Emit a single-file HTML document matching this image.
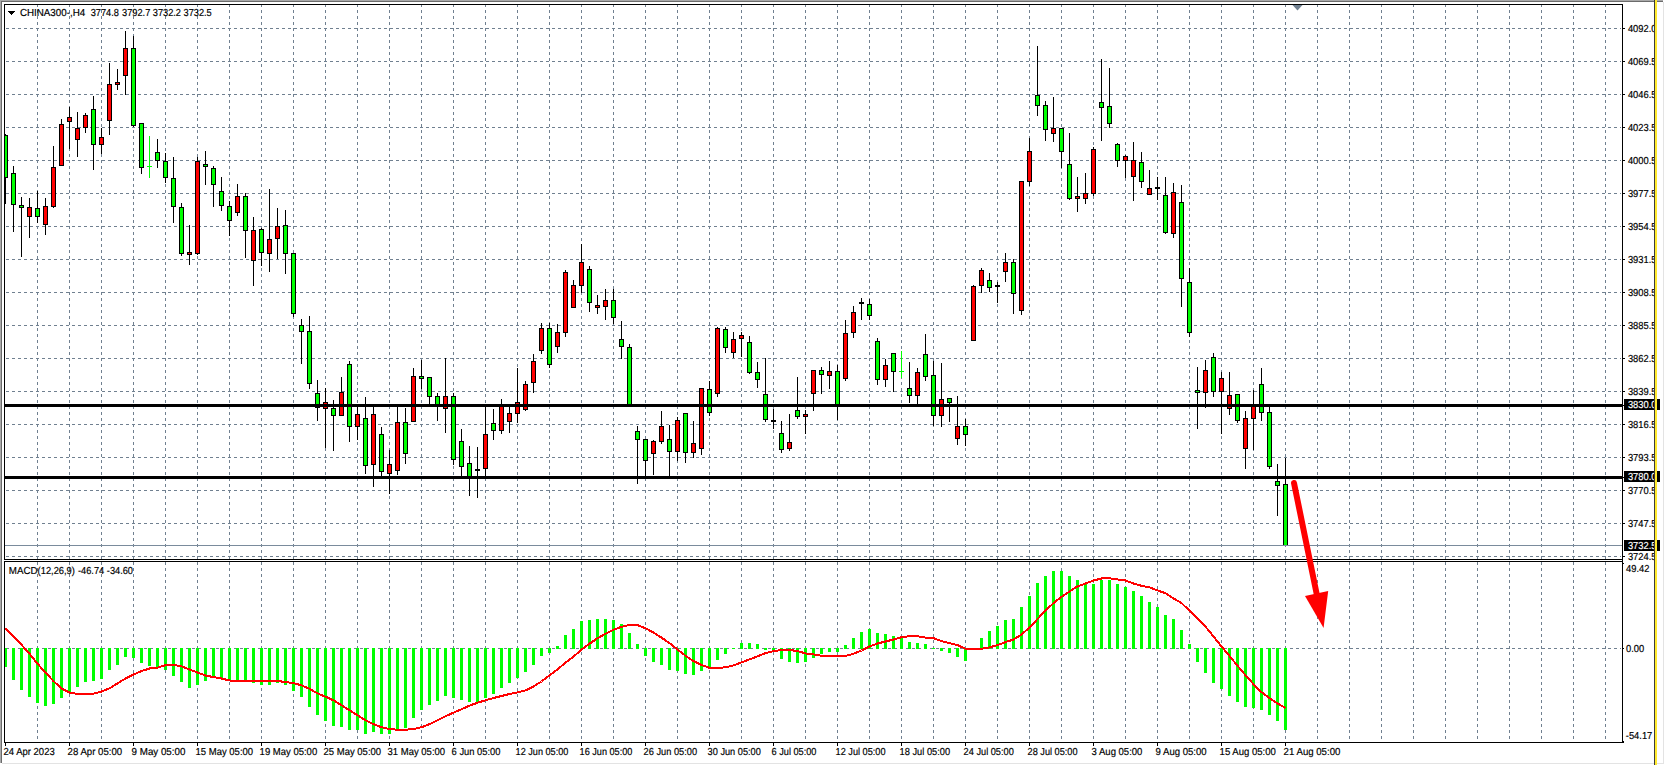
<!DOCTYPE html>
<html><head><meta charset="utf-8"><title>CHINA300-,H4</title>
<style>html,body{margin:0;padding:0;background:#fff;overflow:hidden}svg{display:block}text{font-family:"Liberation Sans",sans-serif;font-size:10.1px;text-rendering:geometricPrecision}</style>
</head><body>
<svg width="1665" height="765" viewBox="0 0 1665 765">
<rect width="1665" height="765" fill="#fff"/>
<g shape-rendering="crispEdges">
<rect x="0" y="0" width="1663" height="1" fill="#a9a9a9"/>
<rect x="0" y="1" width="1663" height="1" fill="#6b6b6b"/>
<rect x="0" y="0" width="1" height="763" fill="#a9a9a9"/>
<rect x="1" y="1" width="1" height="762" fill="#6b6b6b"/>
<rect x="2" y="763" width="1661" height="1" fill="#e3e3e3"/>
<rect x="1663" y="2" width="1" height="762" fill="#e3e3e3"/>
<g stroke="#708090" stroke-width="1" stroke-dasharray="3 3" fill="none">
<path d="M37.5 4V559M69.5 4V559M101.5 4V559M133.5 4V559M165.5 4V559M197.5 4V559M229.5 4V559M261.5 4V559M293.5 4V559M325.5 4V559M357.5 4V559M389.5 4V559M421.5 4V559M453.5 4V559M485.5 4V559M517.5 4V559M549.5 4V559M581.5 4V559M613.5 4V559M645.5 4V559M677.5 4V559M709.5 4V559M741.5 4V559M773.5 4V559M805.5 4V559M837.5 4V559M869.5 4V559M901.5 4V559M933.5 4V559M965.5 4V559M997.5 4V559M1029.5 4V559M1061.5 4V559M1093.5 4V559M1125.5 4V559M1157.5 4V559M1189.5 4V559M1221.5 4V559M1253.5 4V559M1285.5 4V559M1317.5 4V559M1349.5 4V559M1381.5 4V559M1413.5 4V559M1445.5 4V559M1477.5 4V559M1509.5 4V559M1541.5 4V559M1573.5 4V559M1605.5 4V559"/>
<path d="M37.5 562V740M69.5 562V740M101.5 562V740M133.5 562V740M165.5 562V740M197.5 562V740M229.5 562V740M261.5 562V740M293.5 562V740M325.5 562V740M357.5 562V740M389.5 562V740M421.5 562V740M453.5 562V740M485.5 562V740M517.5 562V740M549.5 562V740M581.5 562V740M613.5 562V740M645.5 562V740M677.5 562V740M709.5 562V740M741.5 562V740M773.5 562V740M805.5 562V740M837.5 562V740M869.5 562V740M901.5 562V740M933.5 562V740M965.5 562V740M997.5 562V740M1029.5 562V740M1061.5 562V740M1093.5 562V740M1125.5 562V740M1157.5 562V740M1189.5 562V740M1221.5 562V740M1253.5 562V740M1285.5 562V740M1317.5 562V740M1349.5 562V740M1381.5 562V740M1413.5 562V740M1445.5 562V740M1477.5 562V740M1509.5 562V740M1541.5 562V740M1573.5 562V740M1605.5 562V740"/>
<path d="M6 28.5H1621M6 61.5H1621M6 94.5H1621M6 127.5H1621M6 160.5H1621M6 193.5H1621M6 226.5H1621M6 259.5H1621M6 292.5H1621M6 325.5H1621M6 358.5H1621M6 391.5H1621M6 424.5H1621M6 457.5H1621M6 490.5H1621M6 523.5H1621M6 556.5H1621M6 648.5H1621"/>
</g>
<clipPath id="cm"><rect x="5" y="5" width="1617" height="554"/></clipPath>
<clipPath id="cs"><rect x="5" y="562" width="1617" height="180"/></clipPath>
<g clip-path="url(#cm)">
<rect x="5" y="134" width="1" height="70" fill="#000"/>
<rect x="3" y="135" width="5" height="43" fill="#000"/>
<rect x="4" y="136" width="3" height="41" fill="#00ff00"/>
<rect x="13" y="166" width="1" height="66" fill="#000"/>
<rect x="11" y="173" width="5" height="32" fill="#000"/>
<rect x="12" y="174" width="3" height="30" fill="#00ff00"/>
<rect x="21" y="197" width="1" height="60" fill="#000"/>
<rect x="19" y="205" width="5" height="3" fill="#000"/>
<rect x="20" y="206" width="3" height="1" fill="#00ff00"/>
<rect x="29" y="198" width="1" height="40" fill="#000"/>
<rect x="27" y="207" width="5" height="10" fill="#000"/>
<rect x="28" y="208" width="3" height="8" fill="#ff0000"/>
<rect x="37" y="191" width="1" height="32" fill="#000"/>
<rect x="35" y="208" width="5" height="9" fill="#000"/>
<rect x="36" y="209" width="3" height="7" fill="#00ff00"/>
<rect x="45" y="198" width="1" height="37" fill="#000"/>
<rect x="43" y="206" width="5" height="19" fill="#000"/>
<rect x="44" y="207" width="3" height="17" fill="#ff0000"/>
<rect x="53" y="146" width="1" height="62" fill="#000"/>
<rect x="51" y="167" width="5" height="40" fill="#000"/>
<rect x="52" y="168" width="3" height="38" fill="#ff0000"/>
<rect x="61" y="119" width="1" height="47" fill="#000"/>
<rect x="59" y="124" width="5" height="42" fill="#000"/>
<rect x="60" y="125" width="3" height="40" fill="#ff0000"/>
<rect x="69" y="107" width="1" height="42" fill="#000"/>
<rect x="67" y="117" width="5" height="5" fill="#000"/>
<rect x="68" y="118" width="3" height="3" fill="#ff0000"/>
<rect x="77" y="112" width="1" height="45" fill="#000"/>
<rect x="75" y="128" width="5" height="12" fill="#000"/>
<rect x="76" y="129" width="3" height="10" fill="#ff0000"/>
<rect x="85" y="113" width="1" height="20" fill="#000"/>
<rect x="83" y="115" width="5" height="13" fill="#000"/>
<rect x="84" y="116" width="3" height="11" fill="#ff0000"/>
<rect x="93" y="96" width="1" height="74" fill="#000"/>
<rect x="91" y="109" width="5" height="36" fill="#000"/>
<rect x="92" y="110" width="3" height="34" fill="#00ff00"/>
<rect x="101" y="128" width="1" height="26" fill="#000"/>
<rect x="99" y="137" width="5" height="8" fill="#000"/>
<rect x="100" y="138" width="3" height="6" fill="#ff0000"/>
<rect x="109" y="63" width="1" height="72" fill="#000"/>
<rect x="107" y="84" width="5" height="37" fill="#000"/>
<rect x="108" y="85" width="3" height="35" fill="#ff0000"/>
<rect x="117" y="69" width="1" height="21" fill="#000"/>
<rect x="115" y="82" width="5" height="3" fill="#000"/>
<rect x="116" y="83" width="3" height="1" fill="#ff0000"/>
<rect x="125" y="31" width="1" height="64" fill="#000"/>
<rect x="123" y="48" width="5" height="28" fill="#000"/>
<rect x="124" y="49" width="3" height="26" fill="#ff0000"/>
<rect x="133" y="36" width="1" height="91" fill="#000"/>
<rect x="131" y="48" width="5" height="78" fill="#000"/>
<rect x="132" y="49" width="3" height="76" fill="#00ff00"/>
<rect x="141" y="123" width="1" height="51" fill="#000"/>
<rect x="139" y="123" width="5" height="45" fill="#000"/>
<rect x="140" y="124" width="3" height="43" fill="#00ff00"/>
<rect x="149" y="136" width="1" height="42" fill="#00ff00"/>
<rect x="147" y="166" width="5" height="1" fill="#00ff00"/>
<rect x="157" y="139" width="1" height="29" fill="#000"/>
<rect x="155" y="152" width="5" height="9" fill="#000"/>
<rect x="156" y="153" width="3" height="7" fill="#00ff00"/>
<rect x="165" y="153" width="1" height="30" fill="#000"/>
<rect x="163" y="161" width="5" height="17" fill="#000"/>
<rect x="164" y="162" width="3" height="15" fill="#00ff00"/>
<rect x="173" y="157" width="1" height="66" fill="#000"/>
<rect x="171" y="178" width="5" height="29" fill="#000"/>
<rect x="172" y="179" width="3" height="27" fill="#00ff00"/>
<rect x="181" y="203" width="1" height="53" fill="#000"/>
<rect x="179" y="207" width="5" height="47" fill="#000"/>
<rect x="180" y="208" width="3" height="45" fill="#00ff00"/>
<rect x="189" y="225" width="1" height="40" fill="#000"/>
<rect x="187" y="252" width="5" height="3" fill="#000"/>
<rect x="188" y="253" width="3" height="1" fill="#ff0000"/>
<rect x="197" y="157" width="1" height="98" fill="#000"/>
<rect x="195" y="161" width="5" height="93" fill="#000"/>
<rect x="196" y="162" width="3" height="91" fill="#ff0000"/>
<rect x="205" y="151" width="1" height="34" fill="#000"/>
<rect x="203" y="164" width="5" height="3" fill="#000"/>
<rect x="204" y="165" width="3" height="1" fill="#00ff00"/>
<rect x="213" y="166" width="1" height="41" fill="#000"/>
<rect x="211" y="168" width="5" height="17" fill="#000"/>
<rect x="212" y="169" width="3" height="15" fill="#00ff00"/>
<rect x="221" y="177" width="1" height="34" fill="#000"/>
<rect x="219" y="191" width="5" height="15" fill="#000"/>
<rect x="220" y="192" width="3" height="13" fill="#00ff00"/>
<rect x="229" y="201" width="1" height="35" fill="#000"/>
<rect x="227" y="206" width="5" height="15" fill="#000"/>
<rect x="228" y="207" width="3" height="13" fill="#00ff00"/>
<rect x="237" y="184" width="1" height="32" fill="#000"/>
<rect x="235" y="196" width="5" height="17" fill="#000"/>
<rect x="236" y="197" width="3" height="15" fill="#ff0000"/>
<rect x="245" y="193" width="1" height="65" fill="#000"/>
<rect x="243" y="196" width="5" height="35" fill="#000"/>
<rect x="244" y="197" width="3" height="33" fill="#00ff00"/>
<rect x="253" y="217" width="1" height="69" fill="#000"/>
<rect x="251" y="230" width="5" height="31" fill="#000"/>
<rect x="252" y="231" width="3" height="29" fill="#ff0000"/>
<rect x="261" y="228" width="1" height="38" fill="#000"/>
<rect x="259" y="229" width="5" height="24" fill="#000"/>
<rect x="260" y="230" width="3" height="22" fill="#00ff00"/>
<rect x="269" y="189" width="1" height="83" fill="#000"/>
<rect x="267" y="239" width="5" height="15" fill="#000"/>
<rect x="268" y="240" width="3" height="13" fill="#ff0000"/>
<rect x="277" y="208" width="1" height="51" fill="#000"/>
<rect x="275" y="226" width="5" height="13" fill="#000"/>
<rect x="276" y="227" width="3" height="11" fill="#ff0000"/>
<rect x="285" y="210" width="1" height="64" fill="#000"/>
<rect x="283" y="225" width="5" height="29" fill="#000"/>
<rect x="284" y="226" width="3" height="27" fill="#00ff00"/>
<rect x="293" y="253" width="1" height="64" fill="#000"/>
<rect x="291" y="253" width="5" height="61" fill="#000"/>
<rect x="292" y="254" width="3" height="59" fill="#00ff00"/>
<rect x="301" y="319" width="1" height="45" fill="#000"/>
<rect x="299" y="325" width="5" height="7" fill="#000"/>
<rect x="300" y="326" width="3" height="5" fill="#00ff00"/>
<rect x="309" y="316" width="1" height="73" fill="#000"/>
<rect x="307" y="331" width="5" height="53" fill="#000"/>
<rect x="308" y="332" width="3" height="51" fill="#00ff00"/>
<rect x="317" y="380" width="1" height="41" fill="#000"/>
<rect x="315" y="393" width="5" height="15" fill="#000"/>
<rect x="316" y="394" width="3" height="13" fill="#00ff00"/>
<rect x="325" y="388" width="1" height="60" fill="#000"/>
<rect x="323" y="402" width="5" height="7" fill="#000"/>
<rect x="324" y="403" width="3" height="5" fill="#ff0000"/>
<rect x="333" y="400" width="1" height="51" fill="#000"/>
<rect x="331" y="408" width="5" height="8" fill="#000"/>
<rect x="332" y="409" width="3" height="6" fill="#00ff00"/>
<rect x="341" y="377" width="1" height="39" fill="#000"/>
<rect x="339" y="392" width="5" height="24" fill="#000"/>
<rect x="340" y="393" width="3" height="22" fill="#ff0000"/>
<rect x="349" y="361" width="1" height="81" fill="#000"/>
<rect x="347" y="364" width="5" height="63" fill="#000"/>
<rect x="348" y="365" width="3" height="61" fill="#00ff00"/>
<rect x="357" y="405" width="1" height="35" fill="#000"/>
<rect x="355" y="414" width="5" height="13" fill="#000"/>
<rect x="356" y="415" width="3" height="11" fill="#ff0000"/>
<rect x="365" y="397" width="1" height="77" fill="#000"/>
<rect x="363" y="418" width="5" height="48" fill="#000"/>
<rect x="364" y="419" width="3" height="46" fill="#00ff00"/>
<rect x="373" y="405" width="1" height="82" fill="#000"/>
<rect x="371" y="414" width="5" height="51" fill="#000"/>
<rect x="372" y="415" width="3" height="49" fill="#ff0000"/>
<rect x="381" y="427" width="1" height="49" fill="#000"/>
<rect x="379" y="434" width="5" height="38" fill="#000"/>
<rect x="380" y="435" width="3" height="36" fill="#00ff00"/>
<rect x="389" y="450" width="1" height="44" fill="#000"/>
<rect x="387" y="464" width="5" height="10" fill="#000"/>
<rect x="388" y="465" width="3" height="8" fill="#ff0000"/>
<rect x="397" y="405" width="1" height="70" fill="#000"/>
<rect x="395" y="422" width="5" height="49" fill="#000"/>
<rect x="396" y="423" width="3" height="47" fill="#ff0000"/>
<rect x="405" y="408" width="1" height="56" fill="#000"/>
<rect x="403" y="422" width="5" height="32" fill="#000"/>
<rect x="404" y="423" width="3" height="30" fill="#00ff00"/>
<rect x="413" y="368" width="1" height="54" fill="#000"/>
<rect x="411" y="376" width="5" height="46" fill="#000"/>
<rect x="412" y="377" width="3" height="44" fill="#ff0000"/>
<rect x="421" y="360" width="1" height="29" fill="#000"/>
<rect x="419" y="376" width="5" height="3" fill="#000"/>
<rect x="420" y="377" width="3" height="1" fill="#00ff00"/>
<rect x="429" y="377" width="1" height="28" fill="#000"/>
<rect x="427" y="377" width="5" height="20" fill="#000"/>
<rect x="428" y="378" width="3" height="18" fill="#00ff00"/>
<rect x="437" y="393" width="1" height="28" fill="#000"/>
<rect x="435" y="396" width="5" height="10" fill="#000"/>
<rect x="436" y="397" width="3" height="8" fill="#00ff00"/>
<rect x="445" y="358" width="1" height="75" fill="#000"/>
<rect x="443" y="396" width="5" height="13" fill="#000"/>
<rect x="444" y="397" width="3" height="11" fill="#ff0000"/>
<rect x="453" y="393" width="1" height="72" fill="#000"/>
<rect x="451" y="396" width="5" height="64" fill="#000"/>
<rect x="452" y="397" width="3" height="62" fill="#00ff00"/>
<rect x="461" y="429" width="1" height="47" fill="#000"/>
<rect x="459" y="441" width="5" height="26" fill="#000"/>
<rect x="460" y="442" width="3" height="24" fill="#00ff00"/>
<rect x="469" y="446" width="1" height="50" fill="#000"/>
<rect x="467" y="463" width="5" height="15" fill="#000"/>
<rect x="468" y="464" width="3" height="13" fill="#00ff00"/>
<rect x="477" y="447" width="1" height="51" fill="#000"/>
<rect x="475" y="469" width="5" height="2" fill="#000"/>
<rect x="485" y="405" width="1" height="71" fill="#000"/>
<rect x="483" y="434" width="5" height="35" fill="#000"/>
<rect x="484" y="435" width="3" height="33" fill="#ff0000"/>
<rect x="493" y="409" width="1" height="31" fill="#000"/>
<rect x="491" y="423" width="5" height="8" fill="#000"/>
<rect x="492" y="424" width="3" height="6" fill="#00ff00"/>
<rect x="501" y="399" width="1" height="35" fill="#000"/>
<rect x="499" y="406" width="5" height="25" fill="#000"/>
<rect x="500" y="407" width="3" height="23" fill="#ff0000"/>
<rect x="509" y="405" width="1" height="28" fill="#000"/>
<rect x="507" y="413" width="5" height="9" fill="#000"/>
<rect x="508" y="414" width="3" height="7" fill="#ff0000"/>
<rect x="517" y="368" width="1" height="55" fill="#000"/>
<rect x="515" y="402" width="5" height="12" fill="#000"/>
<rect x="516" y="403" width="3" height="10" fill="#ff0000"/>
<rect x="525" y="381" width="1" height="30" fill="#000"/>
<rect x="523" y="384" width="5" height="26" fill="#000"/>
<rect x="524" y="385" width="3" height="24" fill="#ff0000"/>
<rect x="533" y="354" width="1" height="39" fill="#000"/>
<rect x="531" y="361" width="5" height="22" fill="#000"/>
<rect x="532" y="362" width="3" height="20" fill="#ff0000"/>
<rect x="541" y="323" width="1" height="31" fill="#000"/>
<rect x="539" y="328" width="5" height="23" fill="#000"/>
<rect x="540" y="329" width="3" height="21" fill="#ff0000"/>
<rect x="549" y="323" width="1" height="45" fill="#000"/>
<rect x="547" y="328" width="5" height="37" fill="#000"/>
<rect x="548" y="329" width="3" height="35" fill="#00ff00"/>
<rect x="557" y="324" width="1" height="29" fill="#000"/>
<rect x="555" y="332" width="5" height="15" fill="#000"/>
<rect x="556" y="333" width="3" height="13" fill="#ff0000"/>
<rect x="565" y="270" width="1" height="67" fill="#000"/>
<rect x="563" y="272" width="5" height="61" fill="#000"/>
<rect x="564" y="273" width="3" height="59" fill="#ff0000"/>
<rect x="573" y="280" width="1" height="28" fill="#000"/>
<rect x="571" y="285" width="5" height="23" fill="#000"/>
<rect x="572" y="286" width="3" height="21" fill="#ff0000"/>
<rect x="581" y="244" width="1" height="49" fill="#000"/>
<rect x="579" y="262" width="5" height="24" fill="#000"/>
<rect x="580" y="263" width="3" height="22" fill="#ff0000"/>
<rect x="589" y="266" width="1" height="46" fill="#000"/>
<rect x="587" y="269" width="5" height="34" fill="#000"/>
<rect x="588" y="270" width="3" height="32" fill="#00ff00"/>
<rect x="597" y="295" width="1" height="19" fill="#000"/>
<rect x="595" y="305" width="5" height="3" fill="#000"/>
<rect x="596" y="306" width="3" height="1" fill="#ff0000"/>
<rect x="605" y="289" width="1" height="31" fill="#000"/>
<rect x="603" y="300" width="5" height="7" fill="#000"/>
<rect x="604" y="301" width="3" height="5" fill="#ff0000"/>
<rect x="613" y="289" width="1" height="35" fill="#000"/>
<rect x="611" y="300" width="5" height="18" fill="#000"/>
<rect x="612" y="301" width="3" height="16" fill="#00ff00"/>
<rect x="621" y="321" width="1" height="38" fill="#000"/>
<rect x="619" y="339" width="5" height="8" fill="#000"/>
<rect x="620" y="340" width="3" height="6" fill="#00ff00"/>
<rect x="629" y="344" width="1" height="62" fill="#000"/>
<rect x="627" y="347" width="5" height="59" fill="#000"/>
<rect x="628" y="348" width="3" height="57" fill="#00ff00"/>
<rect x="637" y="426" width="1" height="58" fill="#000"/>
<rect x="635" y="431" width="5" height="9" fill="#000"/>
<rect x="636" y="432" width="3" height="7" fill="#00ff00"/>
<rect x="645" y="439" width="1" height="38" fill="#000"/>
<rect x="643" y="439" width="5" height="22" fill="#000"/>
<rect x="644" y="440" width="3" height="20" fill="#00ff00"/>
<rect x="653" y="440" width="1" height="35" fill="#000"/>
<rect x="651" y="441" width="5" height="13" fill="#000"/>
<rect x="652" y="442" width="3" height="11" fill="#ff0000"/>
<rect x="661" y="411" width="1" height="33" fill="#000"/>
<rect x="659" y="426" width="5" height="16" fill="#000"/>
<rect x="660" y="427" width="3" height="14" fill="#ff0000"/>
<rect x="669" y="425" width="1" height="51" fill="#000"/>
<rect x="667" y="439" width="5" height="13" fill="#000"/>
<rect x="668" y="440" width="3" height="11" fill="#00ff00"/>
<rect x="677" y="417" width="1" height="44" fill="#000"/>
<rect x="675" y="420" width="5" height="32" fill="#000"/>
<rect x="676" y="421" width="3" height="30" fill="#ff0000"/>
<rect x="685" y="413" width="1" height="50" fill="#000"/>
<rect x="683" y="413" width="5" height="40" fill="#000"/>
<rect x="684" y="414" width="3" height="38" fill="#00ff00"/>
<rect x="693" y="421" width="1" height="37" fill="#000"/>
<rect x="691" y="443" width="5" height="10" fill="#000"/>
<rect x="692" y="444" width="3" height="8" fill="#ff0000"/>
<rect x="701" y="388" width="1" height="67" fill="#000"/>
<rect x="699" y="388" width="5" height="61" fill="#000"/>
<rect x="700" y="389" width="3" height="59" fill="#ff0000"/>
<rect x="709" y="381" width="1" height="35" fill="#000"/>
<rect x="707" y="389" width="5" height="24" fill="#000"/>
<rect x="708" y="390" width="3" height="22" fill="#00ff00"/>
<rect x="717" y="327" width="1" height="70" fill="#000"/>
<rect x="715" y="328" width="5" height="66" fill="#000"/>
<rect x="716" y="329" width="3" height="64" fill="#ff0000"/>
<rect x="725" y="327" width="1" height="26" fill="#000"/>
<rect x="723" y="329" width="5" height="19" fill="#000"/>
<rect x="724" y="330" width="3" height="17" fill="#00ff00"/>
<rect x="733" y="332" width="1" height="26" fill="#000"/>
<rect x="731" y="339" width="5" height="14" fill="#000"/>
<rect x="732" y="340" width="3" height="12" fill="#ff0000"/>
<rect x="741" y="332" width="1" height="25" fill="#000"/>
<rect x="739" y="335" width="5" height="4" fill="#000"/>
<rect x="740" y="336" width="3" height="2" fill="#ff0000"/>
<rect x="749" y="336" width="1" height="38" fill="#000"/>
<rect x="747" y="342" width="5" height="31" fill="#000"/>
<rect x="748" y="343" width="3" height="29" fill="#00ff00"/>
<rect x="757" y="362" width="1" height="26" fill="#000"/>
<rect x="755" y="372" width="5" height="8" fill="#000"/>
<rect x="756" y="373" width="3" height="6" fill="#00ff00"/>
<rect x="765" y="358" width="1" height="64" fill="#000"/>
<rect x="763" y="394" width="5" height="26" fill="#000"/>
<rect x="764" y="395" width="3" height="24" fill="#00ff00"/>
<rect x="773" y="409" width="1" height="20" fill="#000"/>
<rect x="771" y="420" width="5" height="2" fill="#000"/>
<rect x="781" y="421" width="1" height="32" fill="#000"/>
<rect x="779" y="433" width="5" height="17" fill="#000"/>
<rect x="780" y="434" width="3" height="15" fill="#00ff00"/>
<rect x="789" y="414" width="1" height="37" fill="#000"/>
<rect x="787" y="442" width="5" height="7" fill="#000"/>
<rect x="788" y="443" width="3" height="5" fill="#ff0000"/>
<rect x="797" y="377" width="1" height="42" fill="#000"/>
<rect x="795" y="410" width="5" height="7" fill="#000"/>
<rect x="796" y="411" width="3" height="5" fill="#00ff00"/>
<rect x="805" y="410" width="1" height="24" fill="#000"/>
<rect x="803" y="414" width="5" height="3" fill="#000"/>
<rect x="804" y="415" width="3" height="1" fill="#ff0000"/>
<rect x="813" y="370" width="1" height="41" fill="#000"/>
<rect x="811" y="370" width="5" height="24" fill="#000"/>
<rect x="812" y="371" width="3" height="22" fill="#ff0000"/>
<rect x="821" y="367" width="1" height="27" fill="#000"/>
<rect x="819" y="370" width="5" height="5" fill="#000"/>
<rect x="820" y="371" width="3" height="3" fill="#00ff00"/>
<rect x="829" y="361" width="1" height="28" fill="#000"/>
<rect x="827" y="371" width="5" height="5" fill="#000"/>
<rect x="828" y="372" width="3" height="3" fill="#ff0000"/>
<rect x="837" y="365" width="1" height="55" fill="#000"/>
<rect x="835" y="371" width="5" height="35" fill="#000"/>
<rect x="836" y="372" width="3" height="33" fill="#00ff00"/>
<rect x="845" y="320" width="1" height="61" fill="#000"/>
<rect x="843" y="333" width="5" height="46" fill="#000"/>
<rect x="844" y="334" width="3" height="44" fill="#ff0000"/>
<rect x="853" y="306" width="1" height="32" fill="#000"/>
<rect x="851" y="312" width="5" height="21" fill="#000"/>
<rect x="852" y="313" width="3" height="19" fill="#ff0000"/>
<rect x="861" y="298" width="1" height="22" fill="#000"/>
<rect x="859" y="302" width="5" height="2" fill="#000"/>
<rect x="869" y="299" width="1" height="21" fill="#000"/>
<rect x="867" y="304" width="5" height="12" fill="#000"/>
<rect x="868" y="305" width="3" height="10" fill="#00ff00"/>
<rect x="877" y="338" width="1" height="47" fill="#000"/>
<rect x="875" y="341" width="5" height="39" fill="#000"/>
<rect x="876" y="342" width="3" height="37" fill="#00ff00"/>
<rect x="885" y="359" width="1" height="28" fill="#000"/>
<rect x="883" y="365" width="5" height="15" fill="#000"/>
<rect x="884" y="366" width="3" height="13" fill="#ff0000"/>
<rect x="893" y="353" width="1" height="39" fill="#000"/>
<rect x="891" y="353" width="5" height="19" fill="#000"/>
<rect x="892" y="354" width="3" height="17" fill="#00ff00"/>
<rect x="901" y="351" width="1" height="27" fill="#00ff00"/>
<rect x="899" y="371" width="5" height="1" fill="#00ff00"/>
<rect x="909" y="362" width="1" height="41" fill="#000"/>
<rect x="907" y="388" width="5" height="8" fill="#000"/>
<rect x="908" y="389" width="3" height="6" fill="#00ff00"/>
<rect x="917" y="368" width="1" height="37" fill="#000"/>
<rect x="915" y="372" width="5" height="24" fill="#000"/>
<rect x="916" y="373" width="3" height="22" fill="#ff0000"/>
<rect x="925" y="334" width="1" height="47" fill="#000"/>
<rect x="923" y="354" width="5" height="23" fill="#000"/>
<rect x="924" y="355" width="3" height="21" fill="#00ff00"/>
<rect x="933" y="361" width="1" height="65" fill="#000"/>
<rect x="931" y="375" width="5" height="41" fill="#000"/>
<rect x="932" y="376" width="3" height="39" fill="#00ff00"/>
<rect x="941" y="363" width="1" height="64" fill="#000"/>
<rect x="939" y="399" width="5" height="17" fill="#000"/>
<rect x="940" y="400" width="3" height="15" fill="#ff0000"/>
<rect x="949" y="398" width="1" height="24" fill="#000"/>
<rect x="947" y="398" width="5" height="5" fill="#000"/>
<rect x="948" y="399" width="3" height="3" fill="#00ff00"/>
<rect x="957" y="396" width="1" height="49" fill="#000"/>
<rect x="955" y="426" width="5" height="13" fill="#000"/>
<rect x="956" y="427" width="3" height="11" fill="#ff0000"/>
<rect x="965" y="419" width="1" height="27" fill="#000"/>
<rect x="963" y="426" width="5" height="9" fill="#000"/>
<rect x="964" y="427" width="3" height="7" fill="#00ff00"/>
<rect x="973" y="285" width="1" height="56" fill="#000"/>
<rect x="971" y="286" width="5" height="55" fill="#000"/>
<rect x="972" y="287" width="3" height="53" fill="#ff0000"/>
<rect x="981" y="268" width="1" height="25" fill="#000"/>
<rect x="979" y="270" width="5" height="16" fill="#000"/>
<rect x="980" y="271" width="3" height="14" fill="#ff0000"/>
<rect x="989" y="273" width="1" height="19" fill="#000"/>
<rect x="987" y="280" width="5" height="8" fill="#000"/>
<rect x="988" y="281" width="3" height="6" fill="#00ff00"/>
<rect x="997" y="282" width="1" height="21" fill="#000"/>
<rect x="995" y="285" width="5" height="2" fill="#000"/>
<rect x="1005" y="253" width="1" height="29" fill="#000"/>
<rect x="1003" y="262" width="5" height="10" fill="#000"/>
<rect x="1004" y="263" width="3" height="8" fill="#ff0000"/>
<rect x="1013" y="259" width="1" height="55" fill="#000"/>
<rect x="1011" y="262" width="5" height="32" fill="#000"/>
<rect x="1012" y="263" width="3" height="30" fill="#00ff00"/>
<rect x="1021" y="181" width="1" height="134" fill="#000"/>
<rect x="1019" y="181" width="5" height="130" fill="#000"/>
<rect x="1020" y="182" width="3" height="128" fill="#ff0000"/>
<rect x="1029" y="138" width="1" height="48" fill="#000"/>
<rect x="1027" y="151" width="5" height="31" fill="#000"/>
<rect x="1028" y="152" width="3" height="29" fill="#ff0000"/>
<rect x="1037" y="46" width="1" height="70" fill="#000"/>
<rect x="1035" y="95" width="5" height="11" fill="#000"/>
<rect x="1036" y="96" width="3" height="9" fill="#00ff00"/>
<rect x="1045" y="101" width="1" height="40" fill="#000"/>
<rect x="1043" y="105" width="5" height="25" fill="#000"/>
<rect x="1044" y="106" width="3" height="23" fill="#00ff00"/>
<rect x="1053" y="97" width="1" height="45" fill="#000"/>
<rect x="1051" y="128" width="5" height="6" fill="#000"/>
<rect x="1052" y="129" width="3" height="4" fill="#ff0000"/>
<rect x="1061" y="128" width="1" height="40" fill="#000"/>
<rect x="1059" y="128" width="5" height="24" fill="#000"/>
<rect x="1060" y="129" width="3" height="22" fill="#00ff00"/>
<rect x="1069" y="133" width="1" height="67" fill="#000"/>
<rect x="1067" y="164" width="5" height="35" fill="#000"/>
<rect x="1068" y="165" width="3" height="33" fill="#00ff00"/>
<rect x="1077" y="177" width="1" height="35" fill="#000"/>
<rect x="1075" y="196" width="5" height="3" fill="#000"/>
<rect x="1076" y="197" width="3" height="1" fill="#ff0000"/>
<rect x="1085" y="173" width="1" height="31" fill="#000"/>
<rect x="1083" y="193" width="5" height="6" fill="#000"/>
<rect x="1084" y="194" width="3" height="4" fill="#ff0000"/>
<rect x="1093" y="147" width="1" height="49" fill="#000"/>
<rect x="1091" y="149" width="5" height="45" fill="#000"/>
<rect x="1092" y="150" width="3" height="43" fill="#ff0000"/>
<rect x="1101" y="59" width="1" height="82" fill="#000"/>
<rect x="1099" y="102" width="5" height="6" fill="#000"/>
<rect x="1100" y="103" width="3" height="4" fill="#00ff00"/>
<rect x="1109" y="68" width="1" height="60" fill="#000"/>
<rect x="1107" y="106" width="5" height="18" fill="#000"/>
<rect x="1108" y="107" width="3" height="16" fill="#00ff00"/>
<rect x="1117" y="143" width="1" height="24" fill="#000"/>
<rect x="1115" y="144" width="5" height="17" fill="#000"/>
<rect x="1116" y="145" width="3" height="15" fill="#00ff00"/>
<rect x="1125" y="155" width="1" height="23" fill="#000"/>
<rect x="1123" y="156" width="5" height="5" fill="#000"/>
<rect x="1124" y="157" width="3" height="3" fill="#ff0000"/>
<rect x="1133" y="142" width="1" height="59" fill="#000"/>
<rect x="1131" y="160" width="5" height="17" fill="#000"/>
<rect x="1132" y="161" width="3" height="15" fill="#ff0000"/>
<rect x="1141" y="152" width="1" height="36" fill="#000"/>
<rect x="1139" y="162" width="5" height="20" fill="#000"/>
<rect x="1140" y="163" width="3" height="18" fill="#00ff00"/>
<rect x="1149" y="170" width="1" height="25" fill="#000"/>
<rect x="1147" y="188" width="5" height="7" fill="#000"/>
<rect x="1148" y="189" width="3" height="5" fill="#ff0000"/>
<rect x="1157" y="177" width="1" height="23" fill="#000"/>
<rect x="1155" y="187" width="5" height="2" fill="#000"/>
<rect x="1165" y="177" width="1" height="57" fill="#000"/>
<rect x="1163" y="195" width="5" height="38" fill="#000"/>
<rect x="1164" y="196" width="3" height="36" fill="#00ff00"/>
<rect x="1173" y="183" width="1" height="55" fill="#000"/>
<rect x="1171" y="192" width="5" height="42" fill="#000"/>
<rect x="1172" y="193" width="3" height="40" fill="#ff0000"/>
<rect x="1181" y="185" width="1" height="122" fill="#000"/>
<rect x="1179" y="202" width="5" height="77" fill="#000"/>
<rect x="1180" y="203" width="3" height="75" fill="#00ff00"/>
<rect x="1189" y="268" width="1" height="69" fill="#000"/>
<rect x="1187" y="282" width="5" height="51" fill="#000"/>
<rect x="1188" y="283" width="3" height="49" fill="#00ff00"/>
<rect x="1197" y="367" width="1" height="62" fill="#000"/>
<rect x="1195" y="390" width="5" height="3" fill="#000"/>
<rect x="1196" y="391" width="3" height="1" fill="#00ff00"/>
<rect x="1205" y="360" width="1" height="48" fill="#000"/>
<rect x="1203" y="370" width="5" height="23" fill="#000"/>
<rect x="1204" y="371" width="3" height="21" fill="#ff0000"/>
<rect x="1213" y="353" width="1" height="44" fill="#000"/>
<rect x="1211" y="357" width="5" height="35" fill="#000"/>
<rect x="1212" y="358" width="3" height="33" fill="#00ff00"/>
<rect x="1221" y="372" width="1" height="62" fill="#000"/>
<rect x="1219" y="378" width="5" height="14" fill="#000"/>
<rect x="1220" y="379" width="3" height="12" fill="#ff0000"/>
<rect x="1229" y="372" width="1" height="43" fill="#000"/>
<rect x="1227" y="395" width="5" height="14" fill="#000"/>
<rect x="1228" y="396" width="3" height="12" fill="#ff0000"/>
<rect x="1237" y="394" width="1" height="29" fill="#000"/>
<rect x="1235" y="394" width="5" height="27" fill="#000"/>
<rect x="1236" y="395" width="3" height="25" fill="#00ff00"/>
<rect x="1245" y="411" width="1" height="58" fill="#000"/>
<rect x="1243" y="418" width="5" height="31" fill="#000"/>
<rect x="1244" y="419" width="3" height="29" fill="#ff0000"/>
<rect x="1253" y="390" width="1" height="60" fill="#000"/>
<rect x="1251" y="405" width="5" height="14" fill="#000"/>
<rect x="1252" y="406" width="3" height="12" fill="#ff0000"/>
<rect x="1261" y="368" width="1" height="53" fill="#000"/>
<rect x="1259" y="384" width="5" height="29" fill="#000"/>
<rect x="1260" y="385" width="3" height="27" fill="#00ff00"/>
<rect x="1269" y="405" width="1" height="64" fill="#000"/>
<rect x="1267" y="412" width="5" height="55" fill="#000"/>
<rect x="1268" y="413" width="3" height="53" fill="#00ff00"/>
<rect x="1277" y="464" width="1" height="52" fill="#000"/>
<rect x="1275" y="481" width="5" height="5" fill="#000"/>
<rect x="1276" y="482" width="3" height="3" fill="#00ff00"/>
<rect x="1285" y="458" width="1" height="88" fill="#000"/>
<rect x="1283" y="484" width="5" height="62" fill="#000"/>
<rect x="1284" y="485" width="3" height="60" fill="#00ff00"/>
<rect x="5" y="545" width="1617" height="1" fill="#7a8b9c"/>
<rect x="5" y="404" width="1617" height="3" fill="#000"/>
<rect x="5" y="476" width="1617" height="3" fill="#000"/>
</g>
<g clip-path="url(#cs)">
<rect x="4" y="648" width="3" height="19" fill="#00ff00"/>
<rect x="12" y="648" width="3" height="32" fill="#00ff00"/>
<rect x="20" y="648" width="3" height="42" fill="#00ff00"/>
<rect x="28" y="648" width="3" height="49" fill="#00ff00"/>
<rect x="36" y="648" width="3" height="55" fill="#00ff00"/>
<rect x="44" y="648" width="3" height="58" fill="#00ff00"/>
<rect x="52" y="648" width="3" height="56" fill="#00ff00"/>
<rect x="60" y="648" width="3" height="50" fill="#00ff00"/>
<rect x="68" y="648" width="3" height="44" fill="#00ff00"/>
<rect x="76" y="648" width="3" height="39" fill="#00ff00"/>
<rect x="84" y="648" width="3" height="34" fill="#00ff00"/>
<rect x="92" y="648" width="3" height="33" fill="#00ff00"/>
<rect x="100" y="648" width="3" height="31" fill="#00ff00"/>
<rect x="108" y="648" width="3" height="22" fill="#00ff00"/>
<rect x="116" y="648" width="3" height="17" fill="#00ff00"/>
<rect x="124" y="648" width="3" height="9" fill="#00ff00"/>
<rect x="132" y="648" width="3" height="10" fill="#00ff00"/>
<rect x="140" y="648" width="3" height="15" fill="#00ff00"/>
<rect x="148" y="648" width="3" height="18" fill="#00ff00"/>
<rect x="156" y="648" width="3" height="19" fill="#00ff00"/>
<rect x="164" y="648" width="3" height="22" fill="#00ff00"/>
<rect x="172" y="648" width="3" height="28" fill="#00ff00"/>
<rect x="180" y="648" width="3" height="34" fill="#00ff00"/>
<rect x="188" y="648" width="3" height="40" fill="#00ff00"/>
<rect x="196" y="648" width="3" height="37" fill="#00ff00"/>
<rect x="204" y="648" width="3" height="33" fill="#00ff00"/>
<rect x="212" y="648" width="3" height="30" fill="#00ff00"/>
<rect x="220" y="648" width="3" height="31" fill="#00ff00"/>
<rect x="228" y="648" width="3" height="33" fill="#00ff00"/>
<rect x="236" y="648" width="3" height="33" fill="#00ff00"/>
<rect x="244" y="648" width="3" height="34" fill="#00ff00"/>
<rect x="252" y="648" width="3" height="35" fill="#00ff00"/>
<rect x="260" y="648" width="3" height="37" fill="#00ff00"/>
<rect x="268" y="648" width="3" height="37" fill="#00ff00"/>
<rect x="276" y="648" width="3" height="35" fill="#00ff00"/>
<rect x="284" y="648" width="3" height="37" fill="#00ff00"/>
<rect x="292" y="648" width="3" height="43" fill="#00ff00"/>
<rect x="300" y="648" width="3" height="49" fill="#00ff00"/>
<rect x="308" y="648" width="3" height="59" fill="#00ff00"/>
<rect x="316" y="648" width="3" height="67" fill="#00ff00"/>
<rect x="324" y="648" width="3" height="73" fill="#00ff00"/>
<rect x="332" y="648" width="3" height="78" fill="#00ff00"/>
<rect x="340" y="648" width="3" height="79" fill="#00ff00"/>
<rect x="348" y="648" width="3" height="82" fill="#00ff00"/>
<rect x="356" y="648" width="3" height="82" fill="#00ff00"/>
<rect x="364" y="648" width="3" height="86" fill="#00ff00"/>
<rect x="372" y="648" width="3" height="84" fill="#00ff00"/>
<rect x="380" y="648" width="3" height="86" fill="#00ff00"/>
<rect x="388" y="648" width="3" height="86" fill="#00ff00"/>
<rect x="396" y="648" width="3" height="81" fill="#00ff00"/>
<rect x="404" y="648" width="3" height="80" fill="#00ff00"/>
<rect x="412" y="648" width="3" height="70" fill="#00ff00"/>
<rect x="420" y="648" width="3" height="62" fill="#00ff00"/>
<rect x="428" y="648" width="3" height="57" fill="#00ff00"/>
<rect x="436" y="648" width="3" height="53" fill="#00ff00"/>
<rect x="444" y="648" width="3" height="48" fill="#00ff00"/>
<rect x="452" y="648" width="3" height="50" fill="#00ff00"/>
<rect x="460" y="648" width="3" height="52" fill="#00ff00"/>
<rect x="468" y="648" width="3" height="54" fill="#00ff00"/>
<rect x="476" y="648" width="3" height="54" fill="#00ff00"/>
<rect x="484" y="648" width="3" height="50" fill="#00ff00"/>
<rect x="492" y="648" width="3" height="46" fill="#00ff00"/>
<rect x="500" y="648" width="3" height="40" fill="#00ff00"/>
<rect x="508" y="648" width="3" height="35" fill="#00ff00"/>
<rect x="516" y="648" width="3" height="30" fill="#00ff00"/>
<rect x="524" y="648" width="3" height="24" fill="#00ff00"/>
<rect x="532" y="648" width="3" height="17" fill="#00ff00"/>
<rect x="540" y="648" width="3" height="8" fill="#00ff00"/>
<rect x="548" y="648" width="3" height="5" fill="#00ff00"/>
<rect x="556" y="646" width="3" height="3" fill="#00ff00"/>
<rect x="564" y="635" width="3" height="14" fill="#00ff00"/>
<rect x="572" y="629" width="3" height="20" fill="#00ff00"/>
<rect x="580" y="621" width="3" height="28" fill="#00ff00"/>
<rect x="588" y="620" width="3" height="29" fill="#00ff00"/>
<rect x="596" y="619" width="3" height="30" fill="#00ff00"/>
<rect x="604" y="619" width="3" height="30" fill="#00ff00"/>
<rect x="612" y="620" width="3" height="29" fill="#00ff00"/>
<rect x="620" y="624" width="3" height="25" fill="#00ff00"/>
<rect x="628" y="633" width="3" height="16" fill="#00ff00"/>
<rect x="636" y="644" width="3" height="5" fill="#00ff00"/>
<rect x="644" y="648" width="3" height="8" fill="#00ff00"/>
<rect x="652" y="648" width="3" height="14" fill="#00ff00"/>
<rect x="660" y="648" width="3" height="17" fill="#00ff00"/>
<rect x="668" y="648" width="3" height="22" fill="#00ff00"/>
<rect x="676" y="648" width="3" height="23" fill="#00ff00"/>
<rect x="684" y="648" width="3" height="26" fill="#00ff00"/>
<rect x="692" y="648" width="3" height="27" fill="#00ff00"/>
<rect x="700" y="648" width="3" height="23" fill="#00ff00"/>
<rect x="708" y="648" width="3" height="20" fill="#00ff00"/>
<rect x="716" y="648" width="3" height="12" fill="#00ff00"/>
<rect x="724" y="648" width="3" height="6" fill="#00ff00"/>
<rect x="732" y="648" width="3" height="1" fill="#00ff00"/>
<rect x="740" y="643" width="3" height="6" fill="#00ff00"/>
<rect x="748" y="643" width="3" height="6" fill="#00ff00"/>
<rect x="756" y="644" width="3" height="5" fill="#00ff00"/>
<rect x="764" y="648" width="3" height="2" fill="#00ff00"/>
<rect x="772" y="648" width="3" height="4" fill="#00ff00"/>
<rect x="780" y="648" width="3" height="11" fill="#00ff00"/>
<rect x="788" y="648" width="3" height="14" fill="#00ff00"/>
<rect x="796" y="648" width="3" height="15" fill="#00ff00"/>
<rect x="804" y="648" width="3" height="14" fill="#00ff00"/>
<rect x="812" y="648" width="3" height="10" fill="#00ff00"/>
<rect x="820" y="648" width="3" height="6" fill="#00ff00"/>
<rect x="828" y="648" width="3" height="4" fill="#00ff00"/>
<rect x="836" y="648" width="3" height="4" fill="#00ff00"/>
<rect x="844" y="645" width="3" height="4" fill="#00ff00"/>
<rect x="852" y="638" width="3" height="11" fill="#00ff00"/>
<rect x="860" y="632" width="3" height="17" fill="#00ff00"/>
<rect x="868" y="629" width="3" height="20" fill="#00ff00"/>
<rect x="876" y="633" width="3" height="16" fill="#00ff00"/>
<rect x="884" y="634" width="3" height="15" fill="#00ff00"/>
<rect x="892" y="636" width="3" height="13" fill="#00ff00"/>
<rect x="900" y="637" width="3" height="12" fill="#00ff00"/>
<rect x="908" y="642" width="3" height="7" fill="#00ff00"/>
<rect x="916" y="643" width="3" height="6" fill="#00ff00"/>
<rect x="924" y="644" width="3" height="5" fill="#00ff00"/>
<rect x="932" y="648" width="3" height="1" fill="#00ff00"/>
<rect x="940" y="648" width="3" height="3" fill="#00ff00"/>
<rect x="948" y="648" width="3" height="5" fill="#00ff00"/>
<rect x="956" y="648" width="3" height="9" fill="#00ff00"/>
<rect x="964" y="648" width="3" height="13" fill="#00ff00"/>
<rect x="972" y="648" width="3" height="1" fill="#00ff00"/>
<rect x="980" y="638" width="3" height="11" fill="#00ff00"/>
<rect x="988" y="631" width="3" height="18" fill="#00ff00"/>
<rect x="996" y="626" width="3" height="23" fill="#00ff00"/>
<rect x="1004" y="620" width="3" height="29" fill="#00ff00"/>
<rect x="1012" y="619" width="3" height="30" fill="#00ff00"/>
<rect x="1020" y="607" width="3" height="42" fill="#00ff00"/>
<rect x="1028" y="596" width="3" height="53" fill="#00ff00"/>
<rect x="1036" y="583" width="3" height="66" fill="#00ff00"/>
<rect x="1044" y="576" width="3" height="73" fill="#00ff00"/>
<rect x="1052" y="571" width="3" height="78" fill="#00ff00"/>
<rect x="1060" y="571" width="3" height="78" fill="#00ff00"/>
<rect x="1068" y="576" width="3" height="73" fill="#00ff00"/>
<rect x="1076" y="580" width="3" height="69" fill="#00ff00"/>
<rect x="1084" y="584" width="3" height="65" fill="#00ff00"/>
<rect x="1092" y="584" width="3" height="65" fill="#00ff00"/>
<rect x="1100" y="580" width="3" height="69" fill="#00ff00"/>
<rect x="1108" y="580" width="3" height="69" fill="#00ff00"/>
<rect x="1116" y="584" width="3" height="65" fill="#00ff00"/>
<rect x="1124" y="587" width="3" height="62" fill="#00ff00"/>
<rect x="1132" y="591" width="3" height="58" fill="#00ff00"/>
<rect x="1140" y="596" width="3" height="53" fill="#00ff00"/>
<rect x="1148" y="602" width="3" height="47" fill="#00ff00"/>
<rect x="1156" y="607" width="3" height="42" fill="#00ff00"/>
<rect x="1164" y="615" width="3" height="34" fill="#00ff00"/>
<rect x="1172" y="619" width="3" height="30" fill="#00ff00"/>
<rect x="1180" y="630" width="3" height="19" fill="#00ff00"/>
<rect x="1188" y="644" width="3" height="5" fill="#00ff00"/>
<rect x="1196" y="648" width="3" height="14" fill="#00ff00"/>
<rect x="1204" y="648" width="3" height="25" fill="#00ff00"/>
<rect x="1212" y="648" width="3" height="35" fill="#00ff00"/>
<rect x="1220" y="648" width="3" height="41" fill="#00ff00"/>
<rect x="1228" y="648" width="3" height="48" fill="#00ff00"/>
<rect x="1236" y="648" width="3" height="54" fill="#00ff00"/>
<rect x="1244" y="648" width="3" height="59" fill="#00ff00"/>
<rect x="1252" y="648" width="3" height="60" fill="#00ff00"/>
<rect x="1260" y="648" width="3" height="62" fill="#00ff00"/>
<rect x="1268" y="648" width="3" height="67" fill="#00ff00"/>
<rect x="1276" y="648" width="3" height="73" fill="#00ff00"/>
<rect x="1284" y="648" width="3" height="82" fill="#00ff00"/>
<polyline points="3.0,626.6 5.5,628.9 13.5,636.4 21.5,644.8 29.5,653.8 37.5,663.7 45.5,672.6 53.5,681.1 61.5,688.5 69.5,692.6 77.5,693.9 85.5,694 93.5,693.6 101.5,691.5 109.5,688.4 117.5,683.4 125.5,678.5 133.5,674.5 141.5,671.1 149.5,668.5 157.5,667.6 165.5,665.2 173.5,665 181.5,666.2 189.5,669.5 197.5,672.5 205.5,675.5 213.5,677.1 221.5,678.5 229.5,680.5 237.5,680.9 277.5,680.9 285.5,682.1 293.5,683.1 301.5,685.4 309.5,688.8 317.5,693.4 325.5,696.7 333.5,700.3 341.5,705.3 349.5,710.3 357.5,715.2 365.5,720.2 373.5,724.2 381.5,727.2 389.5,729.1 397.5,729.7 405.5,729.7 413.5,729.1 421.5,727.2 429.5,724.2 437.5,720.2 445.5,716.2 453.5,712.7 461.5,709.3 469.5,705.7 477.5,702.7 485.5,700.3 493.5,698 501.5,696 509.5,694 517.5,692.4 525.5,690.4 533.5,686.4 541.5,681.5 549.5,675.5 557.5,669.5 565.5,662.6 573.5,656.6 581.5,649.7 589.5,643.7 597.5,638.3 605.5,633.8 613.5,629.8 621.5,626.8 629.5,625 637.5,625.2 645.5,628.2 653.5,632.6 661.5,637.6 669.5,643.1 677.5,649.5 685.5,655.8 693.5,661 701.5,665 709.5,667.8 717.5,667.8 725.5,667.4 733.5,665.4 741.5,662.4 749.5,659.4 757.5,656.4 765.5,653.1 773.5,651.1 781.5,650.1 789.5,649.9 797.5,651.1 805.5,653.4 813.5,654.4 821.5,655.8 829.5,656 837.5,656 845.5,655.8 853.5,653.8 861.5,650.5 869.5,646.5 877.5,643.5 885.5,641.5 893.5,639.5 901.5,637.2 909.5,636.2 917.5,636.2 925.5,637.6 933.5,638.1 941.5,641.1 949.5,643.1 957.5,645.1 965.5,648.6 973.5,649 981.5,648.8 989.5,647.4 997.5,645.1 1005.5,642.1 1013.5,639.5 1021.5,634.5 1029.5,627.6 1037.5,619 1045.5,610.7 1053.5,603.1 1061.5,596.8 1069.5,591.4 1077.5,586.4 1085.5,583.5 1093.5,580.5 1101.5,578.5 1109.5,578.3 1117.5,579.5 1125.5,580.5 1133.5,583.5 1141.5,585.8 1149.5,587.4 1157.5,590.4 1165.5,593.2 1173.5,598.4 1181.5,603.1 1189.5,610.7 1197.5,618.2 1205.5,626.6 1213.5,636.5 1221.5,646.4 1229.5,656 1237.5,665.7 1245.5,675.3 1253.5,684.2 1261.5,692.1 1269.5,698.1 1277.5,703.5 1285.5,708" fill="none" stroke="#ff0000" stroke-width="2" stroke-linejoin="round"/>
</g>
<rect x="4" y="4" width="1619" height="1" fill="#000"/>
<rect x="4" y="4" width="1" height="556" fill="#000"/>
<rect x="4" y="559" width="1619" height="1" fill="#000"/>
<rect x="1622" y="4" width="1" height="739" fill="#000"/>
<rect x="4" y="561" width="1619" height="1" fill="#000"/>
<rect x="4" y="561" width="1" height="182" fill="#000"/>
<rect x="4" y="742" width="1620" height="1" fill="#000"/>
<rect x="1623" y="28" width="2" height="1" fill="#000"/>
<rect x="1623" y="61" width="2" height="1" fill="#000"/>
<rect x="1623" y="94" width="2" height="1" fill="#000"/>
<rect x="1623" y="127" width="2" height="1" fill="#000"/>
<rect x="1623" y="160" width="2" height="1" fill="#000"/>
<rect x="1623" y="193" width="2" height="1" fill="#000"/>
<rect x="1623" y="226" width="2" height="1" fill="#000"/>
<rect x="1623" y="259" width="2" height="1" fill="#000"/>
<rect x="1623" y="292" width="2" height="1" fill="#000"/>
<rect x="1623" y="325" width="2" height="1" fill="#000"/>
<rect x="1623" y="358" width="2" height="1" fill="#000"/>
<rect x="1623" y="391" width="2" height="1" fill="#000"/>
<rect x="1623" y="424" width="2" height="1" fill="#000"/>
<rect x="1623" y="457" width="2" height="1" fill="#000"/>
<rect x="1623" y="490" width="2" height="1" fill="#000"/>
<rect x="1623" y="523" width="2" height="1" fill="#000"/>
<rect x="1623" y="556" width="2" height="1" fill="#000"/>
<rect x="1623" y="405" width="1" height="1" fill="#000"/>
<rect x="1623" y="477" width="1" height="1" fill="#000"/>
<rect x="1623" y="563" width="1" height="1" fill="#000"/>
<rect x="1623" y="648" width="1" height="1" fill="#000"/>
<rect x="1623" y="741" width="1" height="1" fill="#000"/>
<rect x="5" y="743" width="1" height="3" fill="#000"/>
<rect x="69" y="743" width="1" height="3" fill="#000"/>
<rect x="133" y="743" width="1" height="3" fill="#000"/>
<rect x="197" y="743" width="1" height="3" fill="#000"/>
<rect x="261" y="743" width="1" height="3" fill="#000"/>
<rect x="325" y="743" width="1" height="3" fill="#000"/>
<rect x="389" y="743" width="1" height="3" fill="#000"/>
<rect x="453" y="743" width="1" height="3" fill="#000"/>
<rect x="517" y="743" width="1" height="3" fill="#000"/>
<rect x="581" y="743" width="1" height="3" fill="#000"/>
<rect x="645" y="743" width="1" height="3" fill="#000"/>
<rect x="709" y="743" width="1" height="3" fill="#000"/>
<rect x="773" y="743" width="1" height="3" fill="#000"/>
<rect x="837" y="743" width="1" height="3" fill="#000"/>
<rect x="901" y="743" width="1" height="3" fill="#000"/>
<rect x="965" y="743" width="1" height="3" fill="#000"/>
<rect x="1029" y="743" width="1" height="3" fill="#000"/>
<rect x="1093" y="743" width="1" height="3" fill="#000"/>
<rect x="1157" y="743" width="1" height="3" fill="#000"/>
<rect x="1221" y="743" width="1" height="3" fill="#000"/>
<rect x="1285" y="743" width="1" height="3" fill="#000"/>
<rect x="1624" y="399" width="36" height="11" fill="#000"/>
<rect x="1624" y="471" width="36" height="11" fill="#000"/>
<rect x="1624" y="540" width="36" height="11" fill="#000"/>
</g>
<g fill="#ff0000" stroke="none">
<line x1="1294" y1="483" x2="1317.3" y2="597" stroke="#ff0000" stroke-width="6" stroke-linecap="round"/>
<polygon points="1305,596 1328.2,591 1323.6,628.1"/>
</g>
<polygon points="8,11 15,11 11.5,15" fill="#000" shape-rendering="crispEdges"/>
<polygon points="1292.5,5 1302.5,5 1297.5,10.5" fill="#708090"/>
<clipPath id="ct"><rect x="1623" y="0" width="31" height="765"/></clipPath>
<text transform="translate(19.9,16) scale(0.9695,1)" fill="#000" stroke="#000" stroke-width="0.18">CHINA300-,H4</text>
<text transform="translate(90.7,16) scale(0.9130,1)" fill="#000" stroke="#000" stroke-width="0.18">3774.8</text>
<text transform="translate(122.1,16) scale(0.9130,1)" fill="#000" stroke="#000" stroke-width="0.18">3792.7</text>
<text transform="translate(152.8,16) scale(0.9130,1)" fill="#000" stroke="#000" stroke-width="0.18">3732.2</text>
<text transform="translate(183.5,16) scale(0.9130,1)" fill="#000" stroke="#000" stroke-width="0.18">3732.5</text>
<text transform="translate(8.8,574) scale(0.9651,1)" fill="#000" stroke="#000" stroke-width="0.18">MACD</text>
<text transform="translate(37.6,574) scale(0.9228,1)" fill="#000" stroke="#000" stroke-width="0.18">(12,26,9)</text>
<text transform="translate(78.0,574) scale(0.9150,1)" fill="#000" stroke="#000" stroke-width="0.18">-46.74</text>
<text transform="translate(106.8,574) scale(0.9150,1)" fill="#000" stroke="#000" stroke-width="0.18">-34.60</text>
<g clip-path="url(#ct)">
<text transform="translate(1627.9,32) scale(0.9250,1)" fill="#000" stroke="#000" stroke-width="0.18">4092.0</text>
<text transform="translate(1627.9,65) scale(0.9250,1)" fill="#000" stroke="#000" stroke-width="0.18">4069.5</text>
<text transform="translate(1627.9,98) scale(0.9250,1)" fill="#000" stroke="#000" stroke-width="0.18">4046.5</text>
<text transform="translate(1627.9,131) scale(0.9250,1)" fill="#000" stroke="#000" stroke-width="0.18">4023.5</text>
<text transform="translate(1627.9,164) scale(0.9250,1)" fill="#000" stroke="#000" stroke-width="0.18">4000.5</text>
<text transform="translate(1627.9,197) scale(0.9250,1)" fill="#000" stroke="#000" stroke-width="0.18">3977.5</text>
<text transform="translate(1627.9,230) scale(0.9250,1)" fill="#000" stroke="#000" stroke-width="0.18">3954.5</text>
<text transform="translate(1627.9,263) scale(0.9250,1)" fill="#000" stroke="#000" stroke-width="0.18">3931.5</text>
<text transform="translate(1627.9,296) scale(0.9250,1)" fill="#000" stroke="#000" stroke-width="0.18">3908.5</text>
<text transform="translate(1627.9,329) scale(0.9250,1)" fill="#000" stroke="#000" stroke-width="0.18">3885.5</text>
<text transform="translate(1627.9,362) scale(0.9250,1)" fill="#000" stroke="#000" stroke-width="0.18">3862.5</text>
<text transform="translate(1627.9,395) scale(0.9250,1)" fill="#000" stroke="#000" stroke-width="0.18">3839.5</text>
<text transform="translate(1627.9,428) scale(0.9250,1)" fill="#000" stroke="#000" stroke-width="0.18">3816.5</text>
<text transform="translate(1627.9,461) scale(0.9250,1)" fill="#000" stroke="#000" stroke-width="0.18">3793.5</text>
<text transform="translate(1627.9,494) scale(0.9250,1)" fill="#000" stroke="#000" stroke-width="0.18">3770.5</text>
<text transform="translate(1627.9,527) scale(0.9250,1)" fill="#000" stroke="#000" stroke-width="0.18">3747.5</text>
<text transform="translate(1627.9,560) scale(0.9250,1)" fill="#000" stroke="#000" stroke-width="0.18">3724.5</text>
<text transform="translate(1627.9,408) scale(0.9250,1)" fill="#fff" stroke="#fff" stroke-width="0.18">3830.0</text>
<text transform="translate(1627.9,480) scale(0.9250,1)" fill="#fff" stroke="#fff" stroke-width="0.18">3780.0</text>
<text transform="translate(1627.9,549) scale(0.9250,1)" fill="#fff" stroke="#fff" stroke-width="0.18">3732.5</text>
<text transform="translate(1626.0,572) scale(0.9250,1)" fill="#000" stroke="#000" stroke-width="0.18">49.42</text>
<text transform="translate(1626.0,652) scale(0.9250,1)" fill="#000" stroke="#000" stroke-width="0.18">0.00</text>
<text transform="translate(1625.8,739) scale(0.9250,1)" fill="#000" stroke="#000" stroke-width="0.18">-54.17</text>
</g>
<text transform="translate(3.6,755) scale(0.9381,1)" fill="#000" stroke="#000" stroke-width="0.18">24 Apr 2023</text>
<text transform="translate(67.6,755) scale(0.9515,1)" fill="#000" stroke="#000" stroke-width="0.18">28 Apr 05:00</text>
<text transform="translate(131.6,755) scale(0.9680,1)" fill="#000" stroke="#000" stroke-width="0.18">9 May 05:00</text>
<text transform="translate(195.6,755) scale(0.9396,1)" fill="#000" stroke="#000" stroke-width="0.18">15 May 05:00</text>
<text transform="translate(259.6,755) scale(0.9412,1)" fill="#000" stroke="#000" stroke-width="0.18">19 May 05:00</text>
<text transform="translate(323.6,755) scale(0.9396,1)" fill="#000" stroke="#000" stroke-width="0.18">25 May 05:00</text>
<text transform="translate(387.6,755) scale(0.9396,1)" fill="#000" stroke="#000" stroke-width="0.18">31 May 05:00</text>
<text transform="translate(451.6,755) scale(0.9245,1)" fill="#000" stroke="#000" stroke-width="0.18">6 Jun 05:00</text>
<text transform="translate(515.6,755) scale(0.9041,1)" fill="#000" stroke="#000" stroke-width="0.18">12 Jun 05:00</text>
<text transform="translate(579.6,755) scale(0.9041,1)" fill="#000" stroke="#000" stroke-width="0.18">16 Jun 05:00</text>
<text transform="translate(643.6,755) scale(0.9161,1)" fill="#000" stroke="#000" stroke-width="0.18">26 Jun 05:00</text>
<text transform="translate(707.6,755) scale(0.9110,1)" fill="#000" stroke="#000" stroke-width="0.18">30 Jun 05:00</text>
<text transform="translate(771.6,755) scale(0.9087,1)" fill="#000" stroke="#000" stroke-width="0.18">6 Jul 05:00</text>
<text transform="translate(835.6,755) scale(0.9086,1)" fill="#000" stroke="#000" stroke-width="0.18">12 Jul 05:00</text>
<text transform="translate(899.6,755) scale(0.9177,1)" fill="#000" stroke="#000" stroke-width="0.18">18 Jul 05:00</text>
<text transform="translate(963.6,755) scale(0.9123,1)" fill="#000" stroke="#000" stroke-width="0.18">24 Jul 05:00</text>
<text transform="translate(1027.6,755) scale(0.9086,1)" fill="#000" stroke="#000" stroke-width="0.18">28 Jul 05:00</text>
<text transform="translate(1091.6,755) scale(0.9423,1)" fill="#000" stroke="#000" stroke-width="0.18">3 Aug 05:00</text>
<text transform="translate(1155.6,755) scale(0.9460,1)" fill="#000" stroke="#000" stroke-width="0.18">9 Aug 05:00</text>
<text transform="translate(1219.6,755) scale(0.9457,1)" fill="#000" stroke="#000" stroke-width="0.18">15 Aug 05:00</text>
<text transform="translate(1283.6,755) scale(0.9541,1)" fill="#000" stroke="#000" stroke-width="0.18">21 Aug 05:00</text>
<g shape-rendering="crispEdges">
<rect x="1654" y="0" width="1" height="765" fill="#3c3c3c"/>
<rect x="1655" y="0" width="2" height="765" fill="#ffe92e"/>
</g>
</svg></body></html>
